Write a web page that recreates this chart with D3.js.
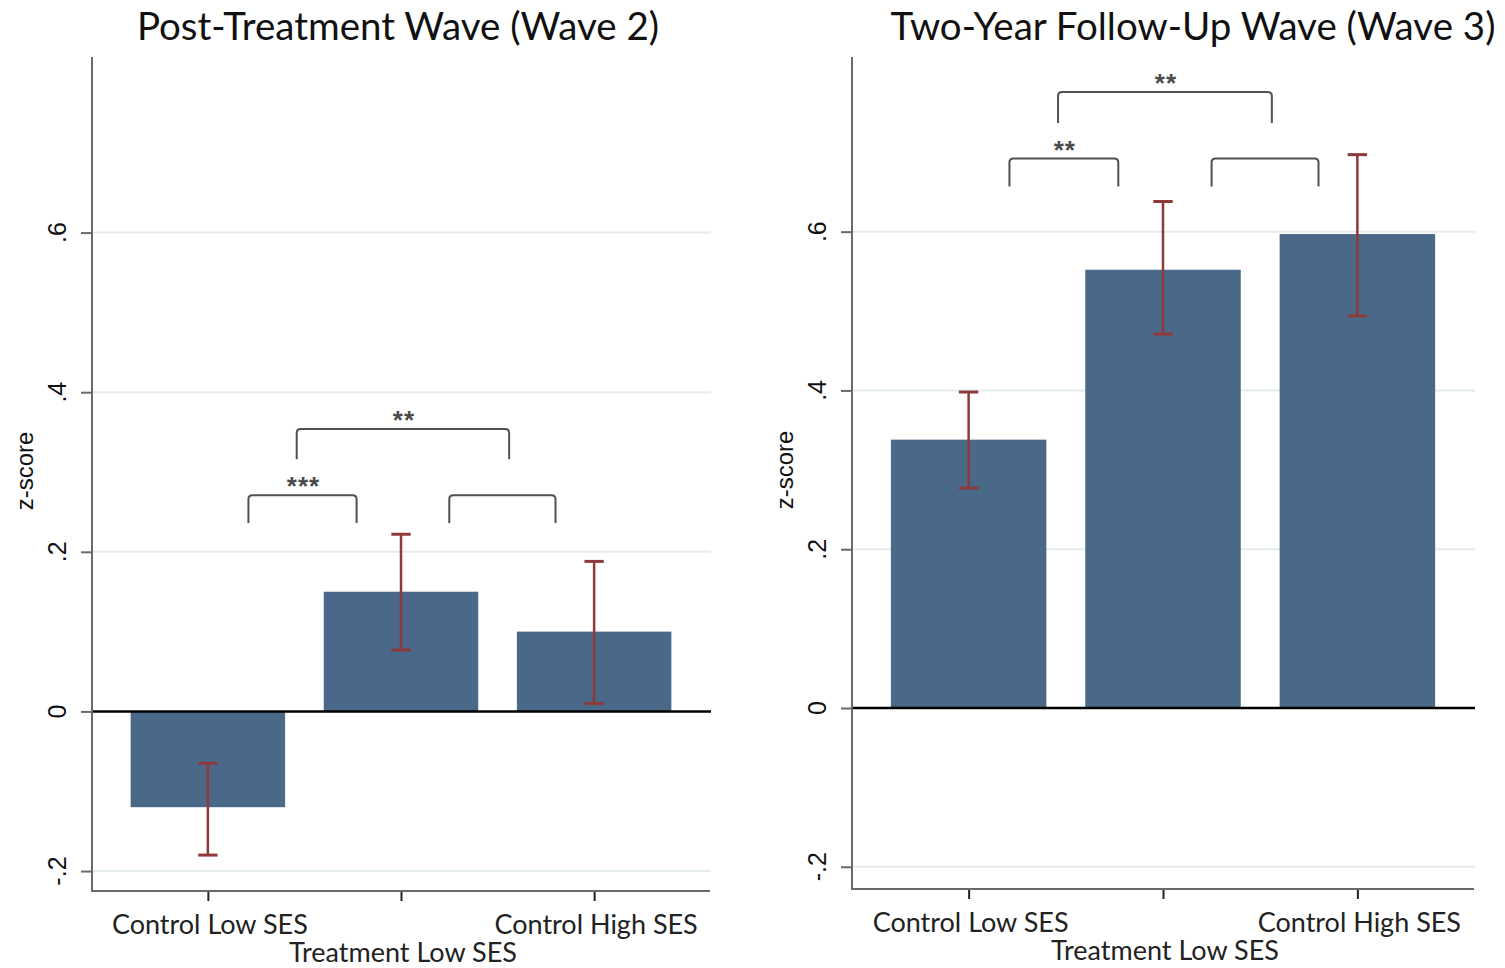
<!DOCTYPE html>
<html>
<head>
<meta charset="utf-8">
<script src="https://cdn.jsdelivr.net/npm/d3@7"></script>
<style>
  html, body { margin: 0; padding: 0; background: #fff; }
  svg { display: block; }
</style>
</head>
<body>
<script>
// Group labels along the x axis
const categories = ["Control Low SES", "Treatment Low SES", "Control High SES"];

// Wave 2 (post-treatment): mean z-scores and confidence bounds
const wave2Means = [-0.12, 0.15, 0.10];
const wave2Low   = [-0.18, 0.077, 0.01];
const wave2High  = [-0.065, 0.222, 0.188];

// Wave 3 (two-year follow-up): mean z-scores and confidence bounds
const wave3Means = [0.338, 0.552, 0.597];
const wave3Low   = [0.277, 0.471, 0.494];
const wave3High  = [0.398, 0.638, 0.697];

// y-axis ticks and their labels
const yTicks = [-0.2, 0, 0.2, 0.4, 0.6];
const yTickLabels = ["-.2", "0", ".2", ".4", ".6"];

// Significance brackets (x in group-index units, y in z-score units)
const wave2Brackets = [
  { from: 0.21, to: 0.77, top: 0.271, foot: 0.236, stars: "***" },
  { from: 1.25, to: 1.80, top: 0.271, foot: 0.236, stars: "" },
  { from: 0.46, to: 1.56, top: 0.354, foot: 0.316, stars: "**" }
];
const wave3Brackets = [
  { from: 0.21, to: 0.77, top: 0.692, foot: 0.657, stars: "**" },
  { from: 1.25, to: 1.80, top: 0.692, foot: 0.657, stars: "" },
  { from: 0.46, to: 1.56, top: 0.776, foot: 0.737, stars: "**" }
];

const panels = [
  { title: "Post-Treatment Wave (Wave 2)", means: wave2Means, low: wave2Low, high: wave2High,
    brackets: wave2Brackets, x0: 92, x1: 710, yTop: 57, yBottom: 891, yMin: -0.225, yMax: 0.82,
    titleX: 398 },
  { title: "Two-Year Follow-Up Wave (Wave 3)", means: wave3Means, low: wave3Low, high: wave3High,
    brackets: wave3Brackets, x0: 852, x1: 1474, yTop: 57, yBottom: 889, yMin: -0.228, yMax: 0.82,
    titleX: 1193 }
];

const BAR = "#4a6888";
const ERR = "#8e3a3a";
const GRID = "#e4ecec";
const AXIS = "#6a6a6a";
const BRACKET = "#505050";
const LABEL_FONT = "Lato, 'Open Sans', sans-serif";
const TICK_FONT = "'Liberation Sans', Arial, sans-serif";

const svg = d3.select("body").append("svg")
  .attr("width", 1505).attr("height", 968);

panels.forEach(p => {
  const g = svg.append("g");
  const x = d3.scaleLinear().domain([-0.6, 2.6]).range([p.x0, p.x1]);
  const y = d3.scaleLinear().domain([p.yMin, p.yMax]).range([p.yBottom, p.yTop]);
  const barW = x(0.8) - x(0);
  const capW = x(0.05) - x(0);

  // title
  g.append("text")
    .attr("x", p.titleX).attr("y", 40)
    .attr("text-anchor", "middle")
    .style("font-family", LABEL_FONT).style("font-size", "38.5px").style("fill", "#111")
    .text(p.title);

  // horizontal grid lines
  g.selectAll("line.grid").data(yTicks.filter(t => t !== 0)).join("line")
    .attr("class", "grid")
    .attr("x1", p.x0).attr("x2", p.x1 + 1)
    .attr("y1", d => y(d)).attr("y2", d => y(d))
    .attr("stroke", GRID).attr("stroke-width", 2);

  // bars
  g.selectAll("rect.bar").data(p.means).join("rect")
    .attr("class", "bar")
    .attr("x", (d, i) => x(i) - barW / 2)
    .attr("width", barW)
    .attr("y", d => y(Math.max(0, d)))
    .attr("height", d => Math.abs(y(d) - y(0)))
    .attr("fill", BAR);

  // error bars
  const eg = g.selectAll("g.err").data(p.means).join("g").attr("class", "err");
  eg.append("line")
    .attr("x1", (d, i) => x(i)).attr("x2", (d, i) => x(i))
    .attr("y1", (d, i) => y(p.low[i])).attr("y2", (d, i) => y(p.high[i]))
    .attr("stroke", ERR).attr("stroke-width", 2.5);
  eg.append("line")
    .attr("x1", (d, i) => x(i) - capW).attr("x2", (d, i) => x(i) + capW)
    .attr("y1", (d, i) => y(p.high[i])).attr("y2", (d, i) => y(p.high[i]))
    .attr("stroke", ERR).attr("stroke-width", 3);
  eg.append("line")
    .attr("x1", (d, i) => x(i) - capW).attr("x2", (d, i) => x(i) + capW)
    .attr("y1", (d, i) => y(p.low[i])).attr("y2", (d, i) => y(p.low[i]))
    .attr("stroke", ERR).attr("stroke-width", 3);

  // zero line
  g.append("line")
    .attr("x1", p.x0).attr("x2", p.x1 + 1)
    .attr("y1", y(0)).attr("y2", y(0))
    .attr("stroke", "#000").attr("stroke-width", 2.5);

  // y axis
  const yAxis = d3.axisLeft(y).tickValues(yTicks).tickSize(11).tickFormat("");
  const ya = g.append("g").attr("transform", `translate(${p.x0},0)`).call(yAxis);
  ya.select(".domain").remove();
  ya.selectAll(".tick line").attr("stroke", AXIS).attr("stroke-width", 2);
  g.append("line")
    .attr("x1", p.x0).attr("x2", p.x0)
    .attr("y1", p.yTop).attr("y2", p.yBottom + 1)
    .attr("stroke", AXIS).attr("stroke-width", 2);
  g.selectAll("text.ytick").data(yTicks).join("text")
    .attr("class", "ytick")
    .attr("transform", d => `translate(${p.x0 - 26},${y(d)}) rotate(-90)`)
    .attr("text-anchor", "middle")
    .style("font-family", TICK_FONT).style("font-size", "25px").style("fill", "#111")
    .text((d, i) => yTickLabels[i]);

  // y axis title
  g.append("text")
    .attr("transform", `translate(${p.x0 - 59},${(p.yTop + p.yBottom) / 2 - 3}) rotate(-90)`)
    .attr("text-anchor", "middle")
    .style("font-family", TICK_FONT).style("font-size", "24px").style("fill", "#111")
    .text("z-score");

  // x axis
  const xAxis = d3.axisBottom(x).tickValues([0, 1, 2]).tickSize(10).tickFormat("");
  const xa = g.append("g").attr("transform", `translate(0,${p.yBottom})`).call(xAxis);
  xa.select(".domain").remove();
  xa.selectAll(".tick line").attr("stroke", "#222").attr("stroke-width", 2);
  g.append("line")
    .attr("x1", p.x0 - 1).attr("x2", p.x1)
    .attr("y1", p.yBottom).attr("y2", p.yBottom)
    .attr("stroke", AXIS).attr("stroke-width", 2);
  g.selectAll("text.xlab").data(categories).join("text")
    .attr("class", "xlab")
    .attr("x", (d, i) => x(i) + 2)
    .attr("y", (d, i) => p.yBottom + (i === 1 ? 71 : 43))
    .attr("text-anchor", "middle")
    .style("font-family", LABEL_FONT).style("font-size", "27px").style("fill", "#222")
    .text(d => d);

  // significance brackets
  const r = 4;
  p.brackets.forEach(b => {
    const xa1 = x(b.from), xa2 = x(b.to), yt = y(b.top), yf = y(b.foot);
    g.append("path")
      .attr("d", `M${xa1},${yf} L${xa1},${yt + r} Q${xa1},${yt} ${xa1 + r},${yt} L${xa2 - r},${yt} Q${xa2},${yt} ${xa2},${yt + r} L${xa2},${yf}`)
      .attr("fill", "none").attr("stroke", BRACKET).attr("stroke-width", 2);
    if (b.stars) {
      g.append("text")
        .attr("x", (xa1 + xa2) / 2 + 1)
        .attr("y", yt - 0)
        .attr("text-anchor", "middle")
        .style("font-family", TICK_FONT).style("font-size", "26px").style("font-weight", "bold")
        .style("letter-spacing", "1px").style("fill", "#4a4a4a")
        .text(b.stars);
    }
  });
});
</script>
</body>
</html>
